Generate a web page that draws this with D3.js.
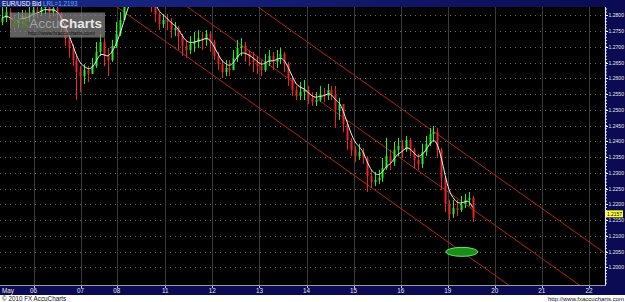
<!DOCTYPE html>
<html><head><meta charset="utf-8">
<script src="https://cdn.jsdelivr.net/npm/d3@7"></script>
<style>html,body{margin:0;padding:0;background:#fff;overflow:hidden}</style>
</head><body><svg id="c" width="625" height="302"></svg>
<script>
// ---------------- data ----------------
const symbolName = "EUR/USD Bid";
const lrlLabel = "LRL=1.2193";
const lastPrice = 1.2157;
const firstOpen = 1.2779;
const barStart = -0.712;      // session-day position of first bar
const barStep = 1 / 12;       // 2-hour bars
const closes = [
1.2791,1.2810,1.2785,1.2772,1.2785,1.2798,1.2791,1.2804,1.2817,1.2810,
1.2823,1.2830,1.2810,1.2823,1.2804,1.2772,1.2728,1.2696,1.2658,1.2620,
1.2607,1.2626,1.2614,1.2639,1.2684,1.2715,1.2671,1.2658,1.2703,1.2741,
1.2785,1.2836,1.2880,1.2906,1.2925,1.2912,1.2893,1.2868,1.2836,1.2804,
1.2772,1.2785,1.2779,1.2753,1.2760,1.2734,1.2703,1.2690,1.2709,1.2715,
1.2728,1.2722,1.2741,1.2715,1.2671,1.2645,1.2620,1.2633,1.2626,1.2665,
1.2696,1.2703,1.2677,1.2665,1.2652,1.2639,1.2626,1.2652,1.2671,1.2652,
1.2665,1.2677,1.2645,1.2601,1.2563,1.2544,1.2556,1.2563,1.2538,1.2525,
1.2531,1.2550,1.2544,1.2563,1.2550,1.2499,1.2518,1.2455,1.2404,1.2373,
1.2353,1.2366,1.2347,1.2290,1.2271,1.2277,1.2284,1.2315,1.2353,1.2334,
1.2373,1.2385,1.2373,1.2404,1.2373,1.2341,1.2328,1.2366,1.2392,1.2423,
1.2430,1.2373,1.2284,1.2201,1.2169,1.2188,1.2182,1.2201,1.2214,1.2220,
1.2157];
const highs = [
1.2833,1.2842,1.2823,1.2804,1.2810,1.2817,1.2817,1.2830,1.2836,1.2830,
1.2842,1.2855,1.2836,1.2849,1.2836,1.2810,1.2785,1.2741,1.2709,1.2671,
1.2639,1.2645,1.2639,1.2665,1.2715,1.2741,1.2728,1.2696,1.2722,1.2779,
1.2810,1.2868,1.2912,1.2944,1.2957,1.2950,1.2931,1.2906,1.2868,1.2842,
1.2810,1.2804,1.2804,1.2791,1.2779,1.2766,1.2741,1.2722,1.2734,1.2747,
1.2753,1.2747,1.2753,1.2747,1.2722,1.2684,1.2658,1.2658,1.2658,1.2690,
1.2722,1.2728,1.2715,1.2690,1.2684,1.2671,1.2658,1.2677,1.2690,1.2684,
1.2690,1.2696,1.2684,1.2652,1.2607,1.2576,1.2588,1.2595,1.2576,1.2556,
1.2556,1.2576,1.2569,1.2582,1.2576,1.2576,1.2538,1.2518,1.2468,1.2411,
1.2385,1.2392,1.2379,1.2353,1.2309,1.2303,1.2309,1.2347,1.2411,1.2373,
1.2398,1.2411,1.2404,1.2417,1.2411,1.2379,1.2360,1.2392,1.2417,1.2442,
1.2449,1.2442,1.2379,1.2290,1.2214,1.2214,1.2214,1.2226,1.2233,1.2239,
1.2226];
const lows = [
1.2769,1.2779,1.2760,1.2753,1.2760,1.2772,1.2766,1.2779,1.2791,1.2791,
1.2798,1.2804,1.2791,1.2798,1.2779,1.2747,1.2703,1.2665,1.2639,1.2531,
1.2556,1.2582,1.2588,1.2614,1.2633,1.2671,1.2639,1.2607,1.2652,1.2696,
1.2734,1.2785,1.2830,1.2861,1.2887,1.2874,1.2855,1.2836,1.2810,1.2779,
1.2753,1.2760,1.2753,1.2728,1.2734,1.2690,1.2671,1.2665,1.2677,1.2684,
1.2696,1.2690,1.2703,1.2684,1.2658,1.2626,1.2601,1.2607,1.2607,1.2626,
1.2652,1.2671,1.2652,1.2639,1.2620,1.2614,1.2607,1.2620,1.2639,1.2626,
1.2633,1.2645,1.2620,1.2576,1.2544,1.2531,1.2531,1.2531,1.2518,1.2512,
1.2512,1.2525,1.2525,1.2531,1.2531,1.2442,1.2468,1.2430,1.2373,1.2353,
1.2334,1.2341,1.2328,1.2239,1.2252,1.2258,1.2265,1.2271,1.2309,1.2309,
1.2322,1.2353,1.2347,1.2366,1.2353,1.2315,1.2309,1.2315,1.2353,1.2385,
1.2398,1.2347,1.2245,1.2176,1.2150,1.2157,1.2163,1.2176,1.2188,1.2195,
1.2144];
const monthLabel = "May";
const dayLabels = ["06","07","08","11","12","13","14","15","16","19","20","21","22"];
const dayTimes  = [0, 1, 1.77, 2.8, 3.8, 4.8, 5.8, 6.8, 7.8, 8.8, 9.8, 10.8, 11.8];
const priceTicks = [1.2000,1.2050,1.2100,1.2150,1.2200,1.2250,1.2300,1.2350,1.2400,
                    1.2450,1.2500,1.2550,1.2600,1.2650,1.2700,1.2750,1.2800];
const channelTimes = [-0.712, 12.12];
const channelUpper = [1.3408, 1.2047];
const channelWidth = 0.0159;
const markerTime = 9.10, markerPrice = 1.2049;
const copyrightText = "\u00a9 2010 FX AccuCharts";
const urlText = "http://www.fxaccucharts.com";

// ---------------- layout ----------------
const W = 625, H = 302;
const P = {left: 0, right: 604, top: 7, bottom: 285};
const navy = "#0a0b52";
const font = "'Liberation Sans', Arial, sans-serif";

const x = d3.scaleLinear().domain([-0.712, 12.12]).range([P.left, P.right]);
const y = d3.scaleLinear().domain([1.19438, 1.28264]).range([P.bottom, P.top]);

const svg = d3.select("#c");
svg.append("rect").attr("width", W).attr("height", H).attr("fill", "#fff");
svg.append("rect").attr("x", 0).attr("y", 0).attr("width", W).attr("height", 295).attr("fill", navy);
svg.append("rect").attr("x", P.left).attr("y", P.top).attr("width", P.right - P.left)
   .attr("height", P.bottom - P.top).attr("fill", "#000");

const defs = svg.append("defs");
defs.append("clipPath").attr("id", "plot").append("rect")
   .attr("x", P.left).attr("y", P.top).attr("width", P.right - P.left).attr("height", P.bottom - P.top);
const tg = defs.append("linearGradient").attr("id", "tbar").attr("x1", 0).attr("x2", 1);
tg.append("stop").attr("offset", 0).attr("stop-color", "#1a2a8a");
tg.append("stop").attr("offset", 1).attr("stop-color", "#0a0b52");

const plot = svg.append("g").attr("clip-path", "url(#plot)");

// grid
plot.selectAll(".hg").data(priceTicks).join("line")
   .attr("x1", P.left).attr("x2", P.right)
   .attr("y1", d => Math.round(y(d)) + 0.5).attr("y2", d => Math.round(y(d)) + 0.5)
   .attr("stroke", "#6a6a6a").attr("stroke-width", 1).attr("stroke-dasharray", "1,4");
plot.selectAll(".vg").data(dayTimes).join("line")
   .attr("x1", d => Math.round(x(d)) + 0.5).attr("x2", d => Math.round(x(d)) + 0.5)
   .attr("y1", P.top).attr("y2", P.bottom)
   .attr("stroke", "#3a3a3a").attr("stroke-width", 1);

// channel lines
[0, 1, 2].forEach(k => {
  plot.append("line")
    .attr("x1", x(channelTimes[0])).attr("y1", y(channelUpper[0] - k * channelWidth))
    .attr("x2", x(channelTimes[1])).attr("y2", y(channelUpper[1] - k * channelWidth))
    .attr("stroke", "#b02418").attr("stroke-width", 1);
});

// candles
const bars = closes.map((c, i) => {
  const o = i === 0 ? firstOpen : closes[i - 1];
  return {t: barStart + (i + 0.5) * barStep, o, c,
          h: Math.max(highs[i], o, c), l: Math.min(lows[i], o, c)};
});
const up = "#22ee22", dn = "#ee2222";
const cg = plot.append("g");
cg.selectAll(".wick").data(bars).join("line")
  .attr("x1", d => Math.round(x(d.t)) + 0.5).attr("x2", d => Math.round(x(d.t)) + 0.5)
  .attr("y1", d => y(d.h)).attr("y2", d => y(d.l))
  .attr("stroke", d => d.c >= d.o ? up : dn).attr("stroke-width", 1);
cg.selectAll(".body").data(bars).join("rect")
  .attr("x", d => Math.round(x(d.t)) - 0.5).attr("width", 2)
  .attr("y", d => y(Math.max(d.o, d.c)))
  .attr("height", d => Math.max(1, Math.abs(y(d.o) - y(d.c))))
  .attr("fill", d => d.c >= d.o ? up : dn);

// moving average (EMA of closes)
const ma = [];
closes.forEach((c, i) => ma.push(i === 0 ? c : ma[i - 1] + 0.4 * (c - ma[i - 1])));
plot.append("path")
  .datum(ma.map((v, i) => [x(bars[i].t), y(v)]))
  .attr("d", d3.line().curve(d3.curveBasis))
  .attr("fill", "none").attr("stroke", "#dff2f2").attr("stroke-width", 1);

// marker ellipse
plot.append("ellipse").attr("cx", x(markerTime)).attr("cy", y(markerPrice))
  .attr("rx", 16).attr("ry", 4.5)
  .attr("fill", "#1c8c1c").attr("stroke", "#55ee55").attr("stroke-width", 1);

// watermark
const wm = svg.append("g");
wm.append("rect").attr("x", 10).attr("y", 12.5).attr("width", 95).attr("height", 25)
  .attr("fill", "#858585").attr("opacity", 0.72);
const wt = wm.append("text").attr("x", 12).attr("y", 28).attr("font-family", font)
  .attr("font-size", 13.5).attr("font-weight", "bold");
wt.append("tspan").text("FX").attr("fill", "#587a34");
wt.append("tspan").text("Accu").attr("fill", "#a2a2a2").attr("font-weight", "normal");
wt.append("tspan").text("Charts").attr("fill", "#e8e8e8");
wm.append("text").attr("x", 28).attr("y", 35).attr("font-family", font).attr("font-size", 5.2)
  .attr("fill", "#111").text("http://www.fxaccucharts.com/");

// title bar
svg.append("rect").attr("x", 0).attr("y", 0).attr("width", W).attr("height", P.top).attr("fill", "url(#tbar)");
const tt = svg.append("text").attr("x", 2).attr("y", 6).attr("font-family", font).attr("font-size", 6.3);
tt.append("tspan").text(symbolName + " ").attr("fill", "#ffffff");
tt.append("tspan").text(lrlLabel).attr("fill", "#66aaff");

// right axis
svg.append("line").attr("x1", P.right + 1.5).attr("x2", P.right + 1.5).attr("y1", P.top).attr("y2", P.bottom)
  .attr("stroke", "#e8e8e8").attr("stroke-width", 1);
const minor = d3.range(1195, 1283).map(v => v / 1000);
svg.selectAll(".mt").data(minor).join("line")
  .attr("x1", P.right + 2).attr("x2", P.right + 3)
  .attr("y1", d => y(d)).attr("y2", d => y(d))
  .attr("stroke", "#d8d8d8").attr("stroke-width", 1);
svg.selectAll(".Mt").data(priceTicks).join("line")
  .attr("x1", P.right + 2).attr("x2", P.right + 4)
  .attr("y1", d => Math.round(y(d)) + 0.5).attr("y2", d => Math.round(y(d)) + 0.5)
  .attr("stroke", "#ffffff").attr("stroke-width", 1);
svg.selectAll(".yl").data(priceTicks).join("text")
  .attr("x", P.right + 4.5).attr("y", d => y(d) + 2.1)
  .attr("font-family", font).attr("font-size", 5.8).attr("fill", "#e6e6e6")
  .attr("textLength", 15.5).attr("lengthAdjust", "spacingAndGlyphs")
  .text(d => d3.format(".4f")(d));

// last price box
svg.append("rect").attr("x", P.right + 2).attr("y", y(lastPrice) - 7.5).attr("width", 17).attr("height", 7)
  .attr("fill", "#ffff3a");
svg.append("text").attr("x", P.right + 3).attr("y", y(lastPrice) - 1.9)
  .attr("font-family", font).attr("font-size", 5.8).attr("fill", "#000")
  .attr("textLength", 15).attr("lengthAdjust", "spacingAndGlyphs")
  .text(d3.format(".4f")(lastPrice));

// bottom axis band
svg.append("line").attr("x1", 0).attr("x2", P.right + 2).attr("y1", P.bottom + 0.5).attr("y2", P.bottom + 0.5)
  .attr("stroke", "#9a9a9a");
svg.selectAll(".xt").data(dayTimes).join("line")
  .attr("x1", d => Math.round(x(d)) + 0.5).attr("x2", d => Math.round(x(d)) + 0.5)
  .attr("y1", P.bottom + 1).attr("y2", P.bottom + 3)
  .attr("stroke", "#cfcfcf");
svg.append("text").attr("x", 2).attr("y", 293).attr("font-family", font).attr("font-size", 6.3)
  .attr("fill", "#e6e6e6").text(monthLabel);
svg.selectAll(".xl").data(dayTimes).join("text")
  .attr("x", d => x(d)).attr("y", 293).attr("text-anchor", "middle")
  .attr("font-family", font).attr("font-size", 6.3).attr("fill", "#e6e6e6")
  .text((d, i) => dayLabels[i]);

// footer
svg.append("rect").attr("x", 0).attr("y", 295).attr("width", W).attr("height", 7).attr("fill", "#fff");
svg.append("text").attr("x", 2).attr("y", 301).attr("font-family", font).attr("font-size", 6.3)
  .attr("fill", "#111").text(copyrightText);
svg.append("text").attr("x", 624).attr("y", 301).attr("text-anchor", "end").attr("font-family", font)
  .attr("font-size", 6).attr("fill", "#111").text(urlText);
</script></body></html>
